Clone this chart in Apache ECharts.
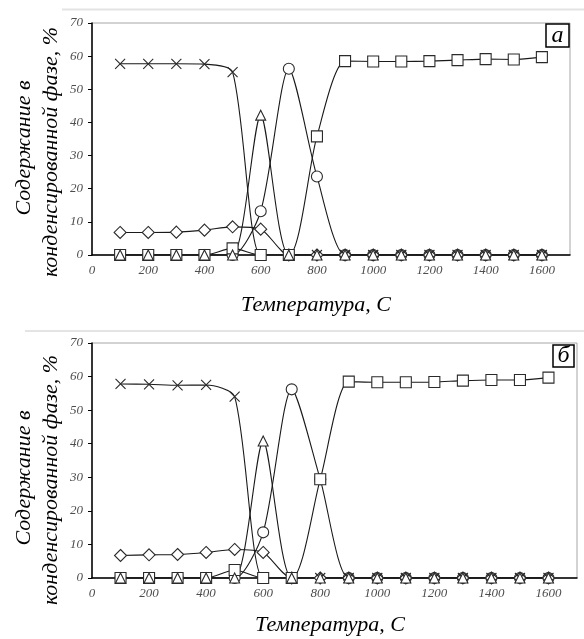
<!DOCTYPE html>
<html>
<head>
<meta charset="utf-8">
<title>Содержание в конденсированной фазе</title>
<script src="https://cdn.jsdelivr.net/npm/echarts@6/dist/echarts.min.js"></script>
<style>
  html, body { margin: 0; padding: 0; background: #fff; }
  #main { width: 584px; height: 639px; }
</style>
</head>
<body>
<div id="main"></div>
<script>
// температура, С
var temps = [100, 200, 300, 400, 500, 600, 700, 800, 900, 1000, 1100, 1200, 1300, 1400, 1500, 1600];

// панель а
var crossA    = [57.7, 57.7, 57.7, 57.6, 55.2, 0, 0, 0, 0, 0, 0, 0, 0, 0, 0, 0];
var diamondA  = [6.8, 6.8, 6.9, 7.5, 8.5, 7.8, 0, 0, 0, 0, 0, 0, 0, 0, 0, 0];
var triangleA = [0, 0, 0, 0, 0, 42.2, 0, 0, 0, 0, 0, 0, 0, 0, 0, 0];
var circleA   = [0, 0, 0, 0, 0, 13.2, 56.2, 23.7, 0, 0, 0, 0, 0, 0, 0, 0];
var squareA   = [0, 0, 0, 0, 2.0, 0, 0, 35.8, 58.5, 58.4, 58.4, 58.5, 58.8, 59.1, 59.0, 59.7];

// панель б
var crossB    = [57.8, 57.7, 57.4, 57.5, 54.0, 0, 0, 0, 0, 0, 0, 0, 0, 0, 0, 0];
var diamondB  = [6.7, 6.9, 7.0, 7.6, 8.5, 7.6, 0, 0, 0, 0, 0, 0, 0, 0, 0, 0];
var triangleB = [0, 0, 0, 0, 0, 40.8, 0, 0, 0, 0, 0, 0, 0, 0, 0, 0];
var circleB   = [0, 0, 0, 0, 0, 13.6, 56.2, 29.4, 0, 0, 0, 0, 0, 0, 0, 0];
var squareB   = [0, 0, 0, 0, 2.4, 0, 0, 29.4, 58.5, 58.3, 58.3, 58.4, 58.8, 59.0, 59.0, 59.7];

var panelLetters = ['а', 'б'];

var serif = '"Liberation Serif", "Times New Roman", serif';

function pairs(vals) {
	var out = [];
	for (var i = 0; i < temps.length; i++) {
		out.push([temps[i], vals[i]]);
	}
	return out;
}

// одна линия с маркерами
function line(idx, vals, symbol, size) {
	return {
		type : 'line',
		xAxisIndex : idx,
		yAxisIndex : idx,
		data : pairs(vals),
		smooth : 0.25,
		smoothConstraint : false,
		clip : true,
		symbol : symbol,
		symbolSize : size,
		showAllSymbol : true,
		lineStyle : { color : '#1a1a1a', width : 1.1 },
		itemStyle : { color : '#fff', borderColor : '#2a2a2a', borderWidth : 1.1 },
		emphasis : { disabled : true },
		z : 2
	};
}

var cross = 'path://M0,0L10,10M10,0L0,10';

function axesFor(idx) {
	return {
		x : {
			type : 'value',
			gridIndex : idx,
			min : 0,
			max : 1700,
			interval : 200,
			axisLine : { lineStyle : { color : '#000', width : 1.5 } },
			axisTick : { show : false },
			splitLine : { show : false },
			axisLabel : {
				showMaxLabel : false,
				margin : 9,
				color : '#4d4d4d',
				fontStyle : 'italic',
				fontFamily : serif,
				fontSize : 13,
				formatter : function (v) { return String(v); }
			}
		},
		y : {
			type : 'value',
			gridIndex : idx,
			min : 0,
			max : 70,
			interval : 10,
			axisLine : { show : true, lineStyle : { color : '#000', width : 1.5 } },
			axisTick : { show : true, length : 4, lineStyle : { color : '#000' } },
			splitLine : { show : false },
			axisLabel : {
				margin : 9,
				color : '#4d4d4d',
				fontStyle : 'italic',
				fontFamily : serif,
				fontSize : 13
			}
		}
	};
}

var axA = axesFor(0);
var axB = axesFor(1);

var series = [
	line(0, circleA, 'circle', 11),
	line(0, diamondA, 'diamond', 12),
	line(0, crossA, cross, 10),
	line(0, squareA, 'rect', 11),
	line(0, triangleA, 'triangle', 10),
	line(1, circleB, 'circle', 11),
	line(1, diamondB, 'diamond', 12),
	line(1, crossB, cross, 10),
	line(1, squareB, 'rect', 11),
	line(1, triangleB, 'triangle', 10)
];

// подписи осей и буквы панелей
function titleText(x, y, text, rot) {
	return {
		type : 'text',
		x : x,
		y : y,
		rotation : rot || 0,
		z : 10,
		style : {
			text : text,
			font : 'italic 22px ' + serif,
			fill : '#000',
			align : 'center',
			verticalAlign : 'middle'
		}
	};
}

function letterBox(x, y, w, h, letter) {
	return {
		type : 'group',
		z : 10,
		children : [{
			type : 'rect',
			shape : { x : x, y : y, width : w, height : h },
			style : { fill : '#fff', stroke : '#000', lineWidth : 1.5 }
		}, {
			type : 'text',
			x : x + w / 2,
			y : y + h / 2,
			style : {
				text : letter,
				font : 'italic 24px ' + serif,
				fill : '#000',
				align : 'center',
				verticalAlign : 'middle'
			}
		}]
	};
}

var graphics = [
	// светлые рамки области диаграмм
	{ type : 'line', shape : { x1 : 62, y1 : 9.5, x2 : 584, y2 : 9.5 }, style : { stroke : '#e4e4e4', lineWidth : 2 } },
	{ type : 'line', shape : { x1 : 25, y1 : 331, x2 : 584, y2 : 331 }, style : { stroke : '#e4e4e4', lineWidth : 2 } },
	titleText(24, 148, 'Содержание в', Math.PI / 2),
	titleText(51, 152, 'конденсированной фазе, %', Math.PI / 2),
	titleText(316, 305, 'Температура, С'),
	titleText(24, 478, 'Содержание в', Math.PI / 2),
	titleText(51, 480, 'конденсированной фазе, %', Math.PI / 2),
	titleText(330, 625, 'Температура, С'),
	letterBox(546, 24, 23, 23, panelLetters[0]),
	letterBox(553, 345, 21, 22, panelLetters[1])
];

var myChart = echarts.init(document.getElementById('main'));
myChart.setOption({
	animation : false,
	backgroundColor : '#fff',
	grid : [
		{ left : 92, top : 23, width : 478, height : 232, show : true, borderColor : '#a6a6a6', borderWidth : 1 },
		{ left : 92, top : 343, width : 485, height : 235, show : true, borderColor : '#a6a6a6', borderWidth : 1 }
	],
	xAxis : [axA.x, axB.x],
	yAxis : [axA.y, axB.y],
	series : series,
	graphic : graphics
});
</script>
</body>
</html>
